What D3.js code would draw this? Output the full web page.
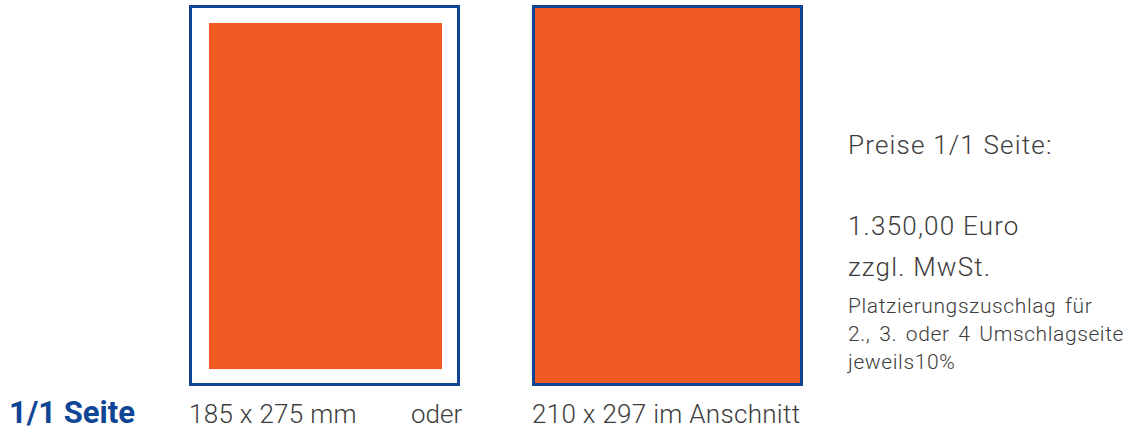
<!DOCTYPE html>
<html>
<head>
<meta charset="utf-8">
<script src="https://cdn.jsdelivr.net/npm/d3@7"></script>
<style>
  body { margin: 0; background: #fff; }
  svg { display: block; }
</style>
</head>
<body>
<svg id="chart" width="1143" height="430"></svg>
<script>
// Formate in mm
var page_size   = [210, 297];
var format_size = [185, 275];
var format_labels = ["185 x 275 mm", "210 x 297 im Anschnitt"];
var title = "1/1 Seite";
var separator = "oder";
var price_lines = ["Preise 1/1 Seite:", "", "1.350,00 Euro", "zzgl. MwSt."];
var note_lines  = ["Platzierungszuschlag für", "2., 3. oder 4 Umschlagseite", "jeweils10%"];

var orange = "#f15a22",
    blue   = "#0e4594",
    grey   = "#3c3c3c";

var svg = d3.select("#chart");

var x_mm = d3.scaleLinear().domain([0, page_size[0]]).range([0, 271]),
    y_mm = d3.scaleLinear().domain([0, page_size[1]]).range([0, 381]);

var page_left = [189, 532],
    page_top  = 5,
    sw = 3;

// linke Seite: Rahmen + Satzspiegel
var g1 = svg.append("g").attr("transform", "translate(" + page_left[0] + "," + page_top + ")");
g1.append("rect")
  .attr("x", sw / 2).attr("y", sw / 2)
  .attr("width", x_mm(page_size[0]) - sw).attr("height", y_mm(page_size[1]) - sw)
  .style("fill", "#fff").style("stroke", blue).style("stroke-width", sw);
var inner_w = x_mm(format_size[0]) * 0.976,
    inner_h = y_mm(format_size[1]) * 0.981;
g1.append("rect")
  .attr("x", 20)
  .attr("y", 18)
  .attr("width", inner_w)
  .attr("height", inner_h)
  .style("fill", orange);

// rechte Seite: Anschnitt
var g2 = svg.append("g").attr("transform", "translate(" + page_left[1] + "," + page_top + ")");
g2.append("rect")
  .attr("x", sw / 2).attr("y", sw / 2)
  .attr("width", x_mm(page_size[0]) - sw).attr("height", y_mm(page_size[1]) - sw)
  .style("fill", orange).style("stroke", blue).style("stroke-width", sw);

var light = "Roboto, sans-serif";

// Beschriftung unten
svg.append("text")
  .attr("x", 9).attr("y", 423)
  .style("font-family", light).style("font-weight", 700)
  .style("font-size", "31px")
  .style("fill", blue)
  .text(title);

svg.selectAll(".fmt-label")
  .data(format_labels)
  .enter()
  .append("text")
  .attr("class", "fmt-label")
  .attr("x", (d, i) => page_left[i])
  .attr("y", 423)
  .style("font-family", light).style("font-weight", 300)
  .style("font-size", "26px").style("letter-spacing", "0.3px")
  .style("fill", grey)
  .text(d => d);

svg.append("text")
  .attr("x", 411).attr("y", 423)
  .style("font-family", light).style("font-weight", 300)
  .style("font-size", "26px").style("fill", grey)
  .text(separator);

// Preise rechts
svg.selectAll(".price")
  .data(price_lines)
  .enter()
  .append("text")
  .attr("class", "price")
  .attr("x", 848)
  .attr("y", (d, i) => 154 + i * 40.7)
  .style("font-family", light).style("font-weight", 300)
  .style("font-size", "26px").style("letter-spacing", "1.2px")
  .style("fill", grey)
  .text(d => d);

svg.selectAll(".note")
  .data(note_lines)
  .enter()
  .append("text")
  .attr("class", "note")
  .attr("x", 848)
  .attr("y", (d, i) => 313 + i * 28)
  .style("font-family", light).style("font-weight", 300)
  .style("font-size", "21px").style("letter-spacing", "0.6px").style("word-spacing", "3px")
  .style("fill", grey)
  .text(d => d);
</script>
</body>
</html>
